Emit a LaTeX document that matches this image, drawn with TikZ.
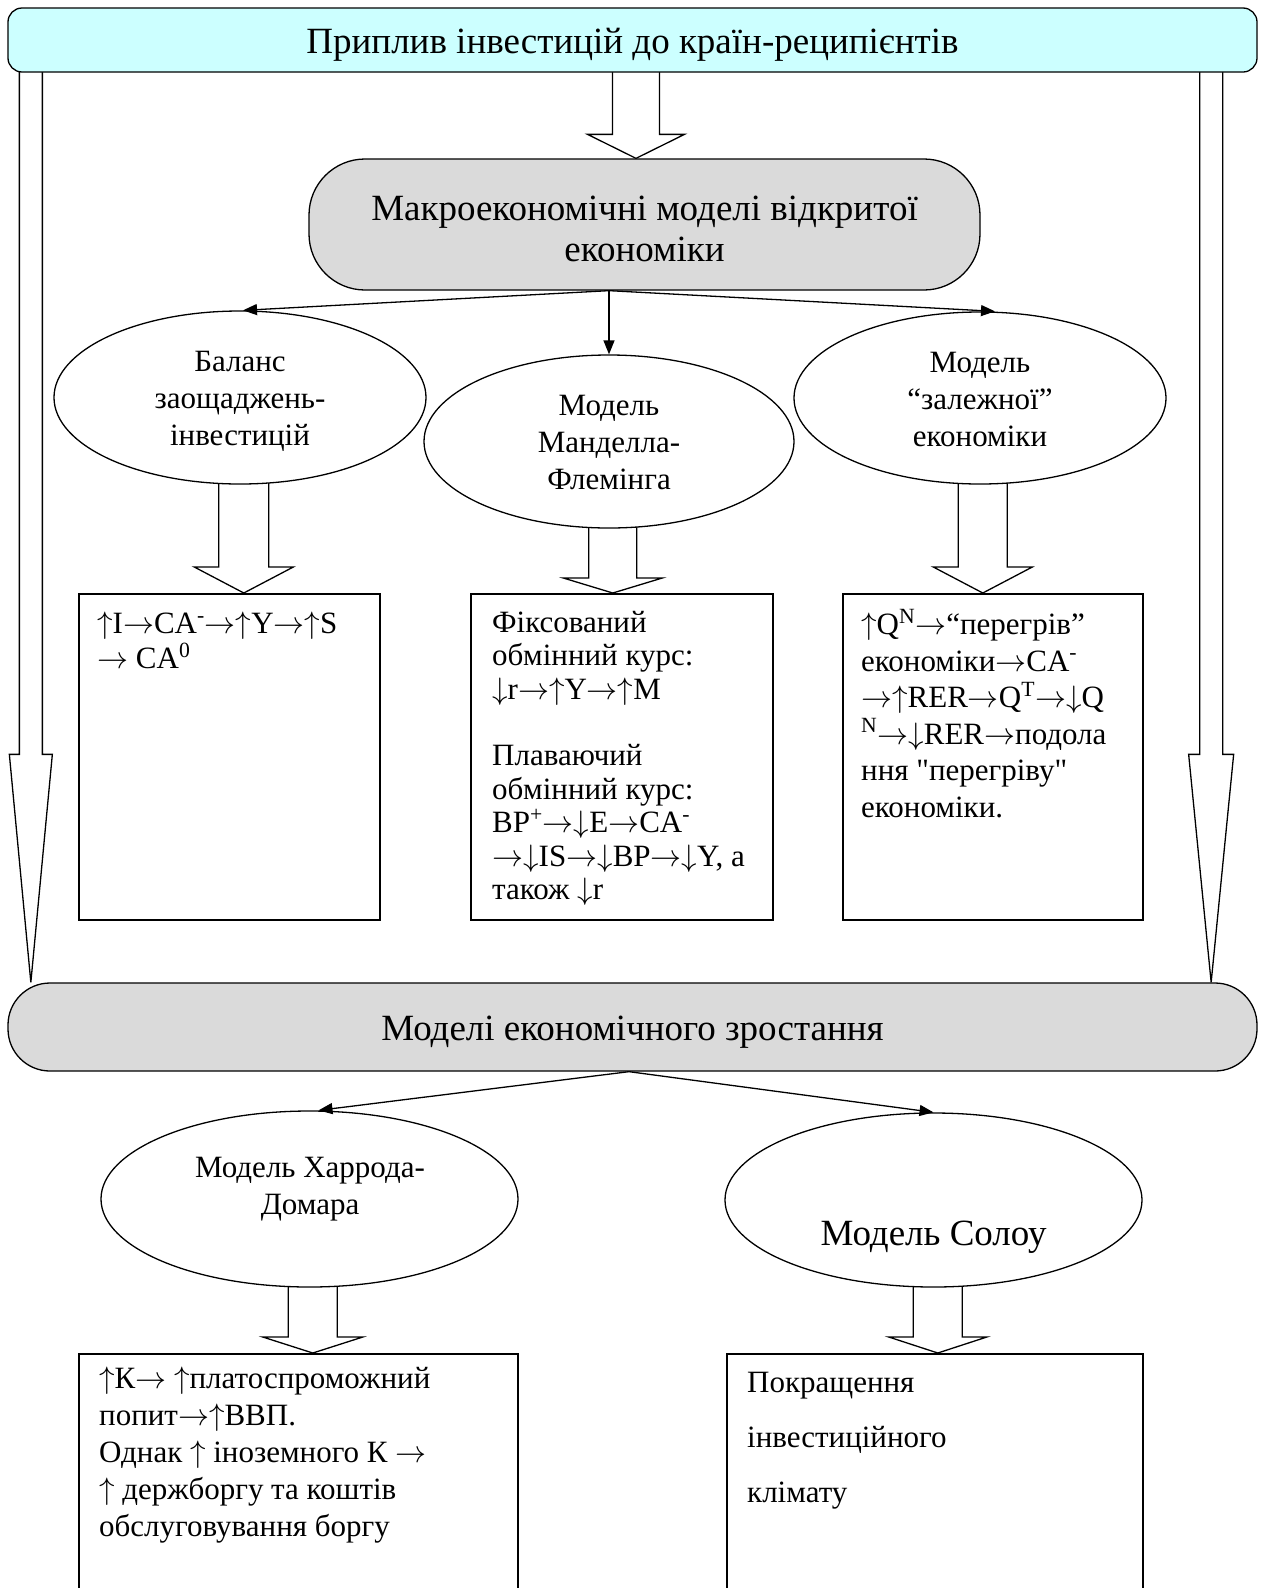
\RequirePackage{fix-cm}
\documentclass[tikz,border=0pt]{standalone}
\usepackage{fontspec}
\setmainfont{Liberation Serif}
\usetikzlibrary{calc,shapes.geometric,arrows.meta}
\pgfdeclarelayer{bg}
\pgfsetlayers{bg,main}
\definecolor{cyanfill}{RGB}{204,255,255}
\definecolor{grayfill}{RGB}{218,218,218}
\newcommand\bigfont{\fontsize{37}{41}\selectfont}
\newcommand\midfont{\fontsize{31}{37}\selectfont}
\newcommand\firstline{\rule{0pt}{24pt}}
\newcommand\ra{\ensuremath{\rightarrow}}
\newcommand\ua{\ensuremath{\uparrow}}
\newcommand\da{\ensuremath{\downarrow}}
\newcommand\topstrut[1]{\rule{0pt}{#1}}
\newcommand\botstrut[1]{\rule[-#1]{0pt}{#1}}
\newcommand\barrow[5]{\draw[blk] let \p1=(#1), \p2=(#2) in
 (\x2-#3pt,\y1) -- (\x2-#3pt,\y2+#5pt) -- (\x2-#4pt,\y2+#5pt) -- (\x2,\y2) --
 (\x2+#4pt,\y2+#5pt) -- (\x2+#3pt,\y2+#5pt) -- (\x2+#3pt,\y1) -- cycle;}
\tikzset{
 banner/.style={draw, line width=1.3pt, fill=cyanfill, rounded corners=14pt, inner sep=0pt, font=\bigfont},
 terminal/.style={draw, line width=1.3pt, fill=grayfill, inner sep=0pt, align=center, font=\bigfont},
 oval/.style={draw, ellipse, line width=1.3pt, fill=white, inner sep=0pt, align=center, font=\midfont},
 panel/.style={draw, line width=1.6pt, fill=white, inner sep=0pt, anchor=north west},
 paneltext/.style={inner sep=0pt, anchor=north west, align=left},
 blk/.style={draw, line width=1.3pt, fill=white},
 link/.style={line width=1.3pt, -{Triangle[length=14pt,width=11pt]}},
}
\begin{document}
\begin{tikzpicture}[x=1pt,y=-1pt]
\useasboundingbox (0,0) rectangle (1264,1588);
% top banner
\node[banner, minimum width=1249pt, minimum height=64pt, text height=31pt, text depth=4pt] (top) at (632.5,40) {Приплив інвестицій до країн-реципієнтів};
% macro models
\node[terminal, rounded corners=56pt, minimum width=671pt, minimum height=131pt] (macro) at (644.5,224.5)
 {\topstrut{41pt}Макроекономічні моделі відкритої\\економіки\botstrut{8pt}};
% three ellipses
\node[oval, minimum width=372pt, minimum height=173pt] (e1) at (240,397.5) {\topstrut{30pt}Баланс\\заощаджень-\\інвестицій\botstrut{8pt}};
\node[oval, minimum width=370pt, minimum height=173pt] (e2) at (609,441.5) {\topstrut{30pt}Модель\\Манделла-\\Флемінга\botstrut{8pt}};
\node[oval, minimum width=372pt, minimum height=172pt] (e3) at (980,398) {\topstrut{30pt}Модель\\“залежної”\\економіки\botstrut{8pt}};
% three boxes
\node[panel, minimum width=301pt, minimum height=326pt] (b1) at (78,593) {};
\node[panel, minimum width=302pt, minimum height=326pt] (b2) at (470,593) {};
\node[panel, minimum width=300pt, minimum height=326pt] (b3) at (842,593) {};
\node[paneltext, font=\fontsize{31}{35}\selectfont] (t1) at ([shift={(19,16.5)}]b1.north west)
 {\firstline \ua{}I\ra{}CA\textsuperscript{-}\ra\ua{}Y\ra\ua{}S\\\ra{} CA\textsuperscript{0}};
\node[paneltext, font=\fontsize{31}{33.5}\selectfont] (t2) at ([shift={(22,15)}]b2.north west)
 {\firstline Фіксований\\обмінний курс:\\\da{}r\ra\ua{}Y\ra\ua{}M\\[33pt]Плаваючий\\обмінний курс:\\BP\textsuperscript{+}\ra\da{}E\ra{}CA\textsuperscript{-}\\\ra\da{}IS\ra\da{}BP\ra\da{}Y, а\\також \da{}r};
\node[paneltext, font=\fontsize{31}{36.5}\selectfont] (t3) at ([shift={(19,16)}]b3.north west)
 {\firstline \ua{}Q\textsuperscript{N}\ra“перегрів”\\економіки\ra{}CA\textsuperscript{-}\\\ra\ua{}RER\ra{}Q\textsuperscript{T}\ra\da{}Q\\\textsuperscript{N}\ra\da{}RER\ra{}подола\\ння \textquotedbl перегріву\textquotedbl\\економіки.};
% growth models
\node[terminal, rounded corners=42pt, minimum width=1249pt, minimum height=88pt, text height=34pt, text depth=8pt] (grow) at (632.5,1027) {Моделі економічного зростання};
\node[oval, minimum width=417pt, minimum height=176pt] (e4) at (309.5,1199) {};
\node[font=\midfont, align=center, inner sep=0pt] (e4t) at (310,1189) {Модель Харрода-\\Домара};
\node[oval, minimum width=417pt, minimum height=174pt] (e5) at (933.5,1200) {};
\node[font=\bigfont, inner sep=0pt] (e5t) at (933.5,1237) {Модель Солоу};
\node[panel, minimum width=439pt, minimum height=260pt] (b4) at (78,1353) {};
\node[panel, minimum width=416pt, minimum height=260pt] (b5) at (726,1353) {};
\node[paneltext, font=\fontsize{31}{37}\selectfont] (t4) at ([shift={(21,11)}]b4.north west)
 {\firstline \ua{}К\ra{} \ua{}платоспроможний\\попит\ra\ua{}ВВП.\\Однак \ua{} іноземного К \ra\\\ua{} держборгу та коштів\\обслуговування боргу};
\node[paneltext, font=\fontsize{31}{55}\selectfont] (t5) at ([shift={(21,15)}]b5.north west)
 {\firstline Покращення\\інвестиційного\\клімату};
% thin connectors
\coordinate (mo) at ([xshift=-35.5pt]macro.south);
\draw[link] (mo) -- ([xshift=3pt]e1.north);
\draw[link] (mo) -- (e2.north);
\draw[link] (mo) -- ([xshift=15pt]e3.north);
\coordinate (go) at ([xshift=-3.5pt]grow.south);
\draw[link] (go) -- ([xshift=9pt]e4.north);
\draw[link] (go) -- (e5.north);
% block arrows
\coordinate (lt) at ([xshift=23.5pt]grow.north west);
\coordinate (rt) at ([xshift=-46.5pt]grow.north east);
\coordinate (ct) at ([xshift=-8.5pt]macro.north);
\coordinate (a1) at ([xshift=14.5pt]b1.north);
\coordinate (a2) at ([xshift=-9pt]b2.north);
\coordinate (a3) at ([xshift=-10pt]b3.north);
\coordinate (a4) at ([xshift=14.5pt]b4.north);
\coordinate (a5) at ([xshift=3pt]b5.north);
\begin{pgfonlayer}{bg}
\fill[white] (0,0) rectangle (1264,1588);
\barrow{top.center}{lt}{11.5}{21.5}{228}
\barrow{top.center}{rt}{11.5}{22.5}{228}
\barrow{top.center}{ct}{23.5}{48.5}{24}
\barrow{e1.center}{a1}{25}{49.5}{26}
\barrow{e2.center}{a2}{24}{49.5}{15}
\barrow{e3.center}{a3}{24.5}{49.5}{26}
\barrow{e4.center}{a4}{24.5}{50}{16}
\barrow{e5.center}{a5}{24.5}{49}{16}
\end{pgfonlayer}
\end{tikzpicture}
\end{document}
